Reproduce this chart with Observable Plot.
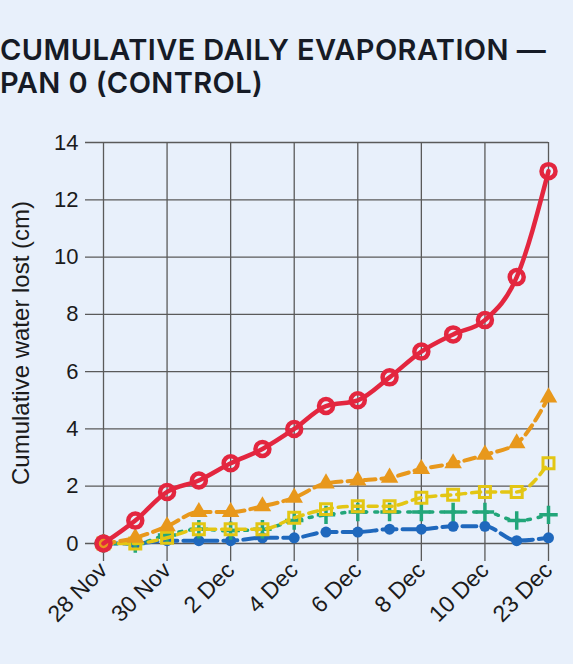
<!DOCTYPE html>
<html>
<head>
<meta charset="utf-8">
<script src="https://cdn.jsdelivr.net/npm/d3@7"></script>
<script src="https://cdn.jsdelivr.net/npm/@observablehq/plot@0.6"></script>
<style>
  html, body { margin: 0; padding: 0; background: #e8f0fb; width: 573px; height: 664px; overflow: hidden; }
  #title { position: absolute; left: 0; top: 34px; font-family: Inter, "Noto Sans", sans-serif; font-weight: 600; font-size: 29px; line-height: 32.5px; letter-spacing: 0.4px; color: #161b26; white-space: nowrap; }
  #chart { position: absolute; left: 0; top: 100px; }
</style>
</head>
<body>
<div id="title">CUMULATIVE DAILY EVAPORATION —<br>PAN 0 (CONTROL)</div>
<div id="chart"></div>
<script>
const dates = ["28 Nov","29 Nov","30 Nov","1 Dec","2 Dec","3 Dec","4 Dec","5 Dec","6 Dec","7 Dec","8 Dec","9 Dec","10 Dec","22 Dec","23 Dec"];
const xTickLabels = ["28 Nov","30 Nov","2 Dec","4 Dec","6 Dec","8 Dec","10 Dec","23 Dec"];
const yTicks = [0, 2, 4, 6, 8, 10, 12, 14];
const yLabel = "Cumulative water lost (cm)";

const series1 = [0, 0.8, 1.8, 2.2, 2.8, 3.3, 4.0, 4.8, 5.0, 5.8, 6.7, 7.3, 7.8, 9.3, 13.0];
const series2 = [0, 0.2, 0.6, 1.1, 1.1, 1.3, 1.6, 2.1, 2.2, 2.3, 2.6, 2.8, 3.1, 3.5, 5.1];
const series3 = [0, 0, 0.2, 0.5, 0.5, 0.5, 0.9, 1.2, 1.3, 1.3, 1.6, 1.7, 1.8, 1.8, 2.8];
const series4 = [0, 0, 0.3, 0.5, 0.45, 0.5, 0.8, 1.0, 1.1, 1.1, 1.1, 1.1, 1.1, 0.8, 1.0];
const series5 = [0, 0, 0.1, 0.1, 0.1, 0.2, 0.2, 0.4, 0.4, 0.5, 0.5, 0.6, 0.6, 0.1, 0.2];

const rows = vals => dates.map((d, i) => ({date: d, value: vals[i]}));
const d1 = rows(series1), d2 = rows(series2), d3r = rows(series3), d4 = rows(series4), d5 = rows(series5);

const RED = "#e3263f", ORANGE = "#e8981c", YELLOW = "#e3c614", GREEN = "#22a67a", BLUE = "#1f68bd";
const GRID = "#5a5a5a";

const chart = Plot.plot({
  width: 573,
  height: 564,
  marginTop: 42,
  marginRight: 25,
  marginBottom: 103,
  marginLeft: 85,
  style: {background: "transparent", fontFamily: "'Liberation Sans', Arial, sans-serif", fontSize: "22px", color: "#1b1b1b", overflow: "visible"},
  x: {type: "point", domain: dates, padding: 0, round: false, insetLeft: 18},
  y: {domain: [0, 14], insetBottom: 18},
  marks: [
    Plot.gridY(yTicks, {stroke: GRID, strokeOpacity: 1, strokeWidth: 1.3}),
    Plot.gridX(xTickLabels, {stroke: GRID, strokeOpacity: 1, strokeWidth: 1.3}),
    Plot.axisY(yTicks, {tickSize: 0, tickPadding: 7, label: null}),
    Plot.text([yLabel], {frameAnchor: "left", dx: -74, rotate: -90, textAnchor: "middle", lineAnchor: "top", fontSize: 24, y: () => 7}),
    Plot.axisX(xTickLabels, {tickSize: 0, tickRotate: -45, tickPadding: 5, fontSize: 23, label: null}),
    Plot.line(d5, {x: "date", y: "value", stroke: BLUE, strokeWidth: 4, strokeDasharray: "14,6", curve: "monotone-x"}),
    Plot.dot(d5, {x: "date", y: "value", fill: BLUE, r: 5.5, symbol: "circle"}),
    Plot.line(d4, {x: "date", y: "value", stroke: GREEN, strokeWidth: 3.5, strokeDasharray: "3,8", curve: "monotone-x"}),
    Plot.dot(d4, {x: "date", y: "value", stroke: GREEN, fill: "none", strokeWidth: 3.5, r: 6, symbol: "plus"}),
    Plot.line(d3r, {x: "date", y: "value", stroke: YELLOW, strokeWidth: 3.5, strokeDasharray: "9,6", curve: "monotone-x"}),
    Plot.dot(d3r, {x: "date", y: "value", stroke: YELLOW, fill: "none", strokeWidth: 3, r: 6.2, symbol: "square"}),
    Plot.line(d2, {x: "date", y: "value", stroke: ORANGE, strokeWidth: 4, strokeDasharray: "11,6", curve: "monotone-x"}),
    Plot.dot(d2, {x: "date", y: "value", fill: ORANGE, r: 6.5, symbol: "triangle"}),
    Plot.line(d1, {x: "date", y: "value", stroke: RED, strokeWidth: 4.5, curve: "monotone-x"}),
    Plot.dot(d1, {x: "date", y: "value", stroke: RED, fill: "none", strokeWidth: 4.5, r: 7, symbol: "circle"})
  ]
});
document.getElementById("chart").appendChild(chart);
</script>
</body>
</html>
